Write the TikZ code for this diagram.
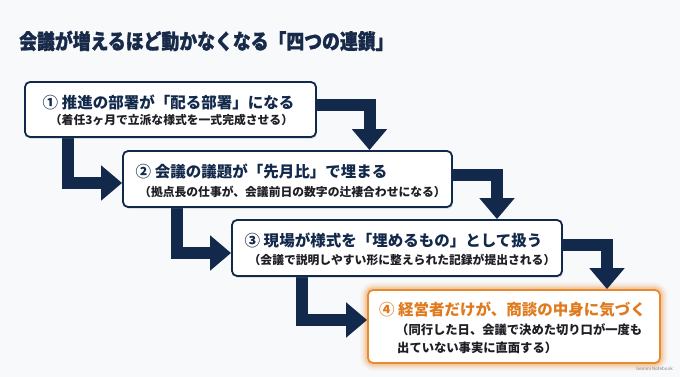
\documentclass[tikz,border=0pt]{standalone}
\usepackage{fontspec}
\setmainfont{Noto Sans CJK JP}
\newfontfamily\titlefont{Noto Sans CJK JP}[FakeStretch=0.85, FakeBold=1.2]
\usetikzlibrary{arrows.meta,shadows,calc}
\definecolor{navy}{HTML}{13294B}
\definecolor{ttl}{HTML}{182A4A}
\definecolor{orng}{HTML}{E98A2F}
\definecolor{orngtxt}{HTML}{E07A1F}
\definecolor{subtxt}{HTML}{1E1E24}
\definecolor{bgc}{HTML}{F8F9FB}
\pgfdeclarelayer{bg}
\pgfdeclarelayer{canvas}
\pgfsetlayers{canvas,bg,main}
\tikzset{
  stepbox/.style={draw=navy, line width=1.8pt, fill=white, rounded corners=5pt,
    inner sep=0pt, drop shadow={opacity=0.22, shadow xshift=1pt, shadow yshift=-1.8pt}},
  hotbox/.style={draw=orng, line width=1.8pt, fill=white, rounded corners=5pt, inner sep=0pt},
  conn/.style={draw=navy, line width=12pt, -{Triangle[width=34pt,length=21pt]}},
  mainline/.style={inner sep=0pt, font=\bfseries\fontsize{15.5}{18}\selectfont, text=navy},
  subline/.style={inner sep=0pt, font=\bfseries\fontsize{11.8}{14}\selectfont, text=subtxt},
}
\begin{document}
\begin{tikzpicture}[x=1pt,y=-1pt]
\begin{pgfonlayer}{canvas}
\fill[bgc] (0,0) rectangle (680,377);
\end{pgfonlayer}
\useasboundingbox (0,0) rectangle (680,377);

\node[anchor=west, inner sep=0pt, font=\titlefont\bfseries\fontsize{21}{25}\selectfont, text=ttl] (title) at (19,41) {会議が増えるほど動かなくなる「四つの連鎖」};

\node[stepbox, minimum width=291pt, minimum height=55pt] (b1) at (170.5,109.5) {};
\node[stepbox, minimum width=329pt, minimum height=56pt] (b2) at (287.5,179) {};
\node[stepbox, minimum width=330pt, minimum height=56pt] (b3) at (397,248) {};
\node[hotbox, minimum width=292pt, minimum height=73pt] (b4) at (514,326.5) {};

\begin{pgfonlayer}{bg}
  \foreach \w/\o in {14/0.05,11/0.07,8/0.09,5.5/0.12,3.5/0.15}
    \draw[orng, opacity=\o, line width=\w pt, rounded corners=7pt] (b4.north west) rectangle (b4.south east);
  \draw[conn] ([yshift=4.5pt]b1.east) -| ([xshift=82pt]b2.north);
  \draw[conn] ([xshift=-102.5pt]b1.south) |- ([yshift=-4pt]b2.west);
  \draw[conn] ([yshift=4pt]b2.east) -| ([xshift=100pt]b3.north);
  \draw[conn] ([xshift=-110.5pt]b2.south) |- ([yshift=-5pt]b3.west);
  \draw[conn] ([yshift=3pt]b3.east) -| ([xshift=93pt]b4.north);
  \draw[conn] ([xshift=-95pt]b3.south) |- ([yshift=6.5pt]b4.west);
\end{pgfonlayer}

\node[mainline] (t1a) at (168.5,102) {① 推進の部署が「配る部署」になる};
\node[subline] (t1b) at (171.5,120) {（着任3ヶ月で立派な様式を一式完成させる）};
\node[mainline] (t2a) at (261.5,172) {② 会議の議題が「先月比」で埋まる};
\node[subline] (t2b) at (292.5,192) {（拠点長の仕事が、会議前日の数字の辻褄合わせになる）};
\node[mainline] (t3a) at (393.5,240) {③ 現場が様式を「埋めるもの」として扱う};
\node[subline] (t3b) at (402,260) {（会議で説明しやすい形に整えられた記録が提出される）};
\node[mainline, text=orngtxt] (t4a) at (512.5,310) {④ 経営者だけが、商談の中身に気づく};
\node[subline, anchor=west, font=\bfseries\fontsize{12.3}{14}\selectfont] (t4b) at (396,330) {（同行した日、会議で決めた切り口が一度も};
\node[subline, anchor=west, font=\bfseries\fontsize{12.3}{14}\selectfont] (t4c) at (397,348) {出ていない事実に直面する）};

\node[anchor=east, inner sep=0pt, font=\fontsize{4.5}{5}\selectfont, text=gray] (wm) at (673,368.5) {Gemini Notebook};
\end{tikzpicture}
\end{document}
